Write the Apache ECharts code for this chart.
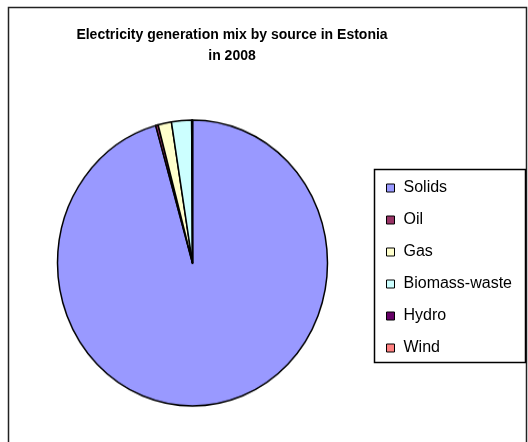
<!DOCTYPE html>
<html>
<head>
<meta charset="utf-8">
<script src="https://cdn.jsdelivr.net/npm/echarts@6/dist/echarts.min.js"></script>
<style>
  html, body { margin: 0; padding: 0; background: #fff; }
  #wrap { position: relative; width: 528px; height: 442px; overflow: hidden; }
  #main, #pie { position: absolute; left: 0; top: 0; width: 528px; height: 442px; }
  /* the pie is drawn slightly taller than wide */
  #pie { transform-origin: 192.5px 263px; transform: scaleY(1.059); }
</style>
</head>
<body>
<div id="wrap">
  <div id="main"></div>
  <div id="pie"></div>
</div>
<script>
// Electricity generation mix, Estonia 2008 (share of total, %)
const sources = ['Solids', 'Oil', 'Gas', 'Biomass-waste', 'Hydro', 'Wind'];
const shares = [95.6, 0.3, 1.6, 2.4, 0.1, 0.0];
const colors = ['#9999FF', '#993366', '#FFFFCC', '#CCFFFF', '#660066', '#FF8080'];
const titleLines = ['Electricity generation mix by source in Estonia', 'in 2008'];

const font = "'Liberation Sans', Arial, sans-serif";
const pieData = sources.map((name, i) => ({ name: name, value: shares[i], itemStyle: { color: colors[i] } }));

// frame, title and legend
const main = echarts.init(document.getElementById('main'), null, { renderer: 'canvas' });
main.setOption({
  animation: false,
  backgroundColor: '#fff',
  title: {
    text: titleLines.join('\n'),
    left: 227,
    textAlign: 'center',
    top: 20,
    textStyle: { fontFamily: font, fontSize: 14, fontWeight: 'bold', color: '#000', lineHeight: 21 }
  },
  legend: {
    orient: 'vertical',
    left: 386,
    top: 179,
    padding: 0,
    itemWidth: 8,
    itemHeight: 8,
    itemGap: 14,
    icon: 'rect',
    selectedMode: false,
    data: sources,
    itemStyle: { borderColor: '#000', borderWidth: 1 },
    textStyle: { fontFamily: font, fontSize: 16, lineHeight: 18, color: '#000', padding: [0, 0, 0, 4] }
  },
  graphic: [
    { type: 'rect', shape: { x: 8.5, y: 7.5, width: 518, height: 440 },
      style: { fill: 'none', stroke: '#222', lineWidth: 1.5 }, silent: true },
    { type: 'rect', shape: { x: 374.5, y: 169.5, width: 151, height: 193 },
      style: { fill: 'none', stroke: '#000', lineWidth: 1.5 }, silent: true }
  ],
  series: [{
    type: 'pie',
    radius: 0,
    center: [-100, -100],
    silent: true,
    label: { show: false },
    labelLine: { show: false },
    data: pieData
  }]
});

// the pie itself
const pie = echarts.init(document.getElementById('pie'), null, { renderer: 'canvas' });
pie.setOption({
  animation: false,
  series: [{
    type: 'pie',
    center: [192.5, 263],
    radius: 135,
    startAngle: 90,
    clockwise: true,
    minAngle: 0,
    avoidLabelOverlap: false,
    silent: true,
    label: { show: false },
    labelLine: { show: false },
    itemStyle: { borderColor: '#000', borderWidth: 1.5 },
    emphasis: { disabled: true },
    data: pieData
  }]
});
</script>
</body>
</html>
